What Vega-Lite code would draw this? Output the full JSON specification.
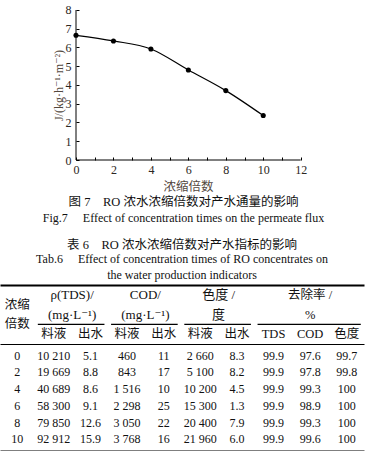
{
  "$schema": "https://vega.github.io/schema/vega-lite/v6.json",
  "padding": 0,
  "spacing": 14,
  "config": {
    "view": {"stroke": null},
    "font": "Liberation Serif, DejaVu Serif, Noto Sans CJK SC",
    "text": {"font": "Liberation Serif, DejaVu Serif, Noto Sans CJK SC", "fontSize": 12, "color": "#111"},
    "axis": {"labelFont": "Liberation Serif, DejaVu Serif, Noto Sans CJK SC", "titleFont": "Liberation Serif, DejaVu Serif, Noto Sans CJK SC", "domainColor": "#000", "tickColor": "#000"},
    "title": {"font": "Liberation Serif, Noto Sans CJK SC", "fontSize": 12.5, "fontWeight": "normal", "color": "#111", "subtitleFont": "Liberation Serif, DejaVu Serif", "subtitleFontSize": 12, "subtitleColor": "#111"},
    "locale": {"number": {"decimal": ".", "thousands": "\u00a0", "grouping": [3], "currency": ["", ""]}}
  },
  "datasets": {
    "flux": [
      {"times": 0, "flux": 6.65},
      {"times": 2, "flux": 6.35},
      {"times": 4, "flux": 5.92},
      {"times": 6, "flux": 4.8},
      {"times": 8, "flux": 3.7},
      {"times": 10, "flux": 2.37}
    ],
    "table": [
      {"times": 0, "tds_feed": 10210, "tds_out": 5.1, "cod_feed": 460, "cod_out": 11, "color_feed": 2660, "color_out": 8.3, "rem_tds": 99.9, "rem_cod": 97.6, "rem_color": 99.7},
      {"times": 2, "tds_feed": 19669, "tds_out": 8.8, "cod_feed": 843, "cod_out": 17, "color_feed": 5100, "color_out": 8.2, "rem_tds": 99.9, "rem_cod": 97.8, "rem_color": 99.8},
      {"times": 4, "tds_feed": 40689, "tds_out": 8.6, "cod_feed": 1516, "cod_out": 10, "color_feed": 10200, "color_out": 4.5, "rem_tds": 99.9, "rem_cod": 99.3, "rem_color": 100},
      {"times": 6, "tds_feed": 58300, "tds_out": 9.1, "cod_feed": 2298, "cod_out": 25, "color_feed": 15300, "color_out": 1.3, "rem_tds": 99.9, "rem_cod": 98.9, "rem_color": 100},
      {"times": 8, "tds_feed": 79850, "tds_out": 12.6, "cod_feed": 3050, "cod_out": 22, "color_feed": 20400, "color_out": 7.9, "rem_tds": 99.9, "rem_cod": 99.3, "rem_color": 100},
      {"times": 10, "tds_feed": 92912, "tds_out": 15.9, "cod_feed": 3768, "cod_out": 16, "color_feed": 21960, "color_out": 6.0, "rem_tds": 99.9, "rem_cod": 99.6, "rem_color": 100}
    ],
    "headerGroups": [
      {"label": "ρ(TDS)/", "col": "tds_feed", "line": "h1"},
      {"label": "(mg·L⁻¹)", "col": "tds_feed", "line": "h2"},
      {"label": "COD/", "col": "cod_feed", "line": "h1"},
      {"label": "(mg·L⁻¹)", "col": "cod_feed", "line": "h2"},
      {"label": "色度 /", "col": "color_feed", "line": "h1"},
      {"label": "度", "col": "color_feed", "line": "h2"}
    ],
    "headerSubs": [
      {"label": "浓缩", "col": "times", "line": "h1b"},
      {"label": "倍数", "col": "times", "line": "h2b"},
      {"label": "去除率 /", "col": "rem_cod", "line": "h1"},
      {"label": "%", "col": "rem_cod", "line": "h2"},
      {"label": "料液", "col": "tds_feed", "line": "h3"},
      {"label": "出水", "col": "tds_out", "line": "h3"},
      {"label": "料液", "col": "cod_feed", "line": "h3"},
      {"label": "出水", "col": "cod_out", "line": "h3"},
      {"label": "料液", "col": "color_feed", "line": "h3"},
      {"label": "出水", "col": "color_out", "line": "h3"},
      {"label": "TDS", "col": "rem_tds", "line": "h3"},
      {"label": "COD", "col": "rem_cod", "line": "h3"},
      {"label": "色度", "col": "rem_color", "line": "h3"}
    ],
    "underlines": [
      {"from": "tds_feed", "to": "tds_out"},
      {"from": "cod_feed", "to": "cod_out"},
      {"from": "color_feed", "to": "color_out"},
      {"from": "rem_tds", "to": "rem_color"}
    ]
  },
  "resolve": {"scale": {"x": "independent", "y": "independent"}},
  "vconcat": [
    {
      "width": 367,
      "height": 160,
      "title": {
        "text": "图 7\u2003RO 浓水浓缩倍数对产水通量的影响",
        "subtitle": "Fig.7\u2003 Effect of concentration times on the permeate flux",
        "orient": "bottom",
        "anchor": "middle",
        "frame": "group",
        "offset": 3,
        "subtitlePadding": 5
      },
      "layer": [
        {
          "data": {"name": "flux"},
          "mark": {"type": "line", "interpolate": "monotone", "color": "#000", "strokeWidth": 1.2},
          "encoding": {
            "x": {
              "field": "times", "type": "quantitative",
              "scale": {"domain": [-4.059, 15.541], "nice": false, "zero": false},
              "axis": {"orient": "bottom", "values": [0, 1, 2, 3, 4, 5, 6, 7, 8, 9, 10, 11, 12], "format": "d", "labelExpr": "datum.value % 2 === 0 ? datum.label : ''", "labelOverlap": false, "domain": false, "grid": false, "tickSize": -3, "tickWidth": 1, "labelPadding": 7, "labelFontSize": 12, "labelColor": "#2b2622", "title": "浓缩倍数", "titleFont": "Noto Sans CJK SC", "titleFontSize": 12.5, "titleFontWeight": "normal", "titleColor": "#54493f", "titlePadding": 5, "titleX": 188}
            },
            "y": {
              "field": "flux", "type": "quantitative",
              "scale": {"domain": [0, 8.5333], "nice": false, "zero": false},
              "axis": {"orient": "left", "offset": -76, "values": [0, 0.5, 1, 1.5, 2, 2.5, 3, 3.5, 4, 4.5, 5, 5.5, 6, 6.5, 7, 7.5, 8], "format": "d", "labelExpr": "datum.value % 1 === 0 ? datum.label : ''", "labelOverlap": false, "domain": false, "grid": false, "tickSize": -3, "labelPadding": 8, "labelFontSize": 12, "labelColor": "#2b2622", "title": "J/(kg·h⁻¹·m⁻²)", "titleFontSize": 12, "titleFontWeight": "normal", "titleColor": "#54493f", "titlePadding": 0, "titleY": 85}
            }
          }
        },
        {
          "data": {"name": "flux"},
          "mark": {"type": "point", "filled": true, "color": "#000", "opacity": 1, "size": 26},
          "encoding": {
            "x": {"field": "times", "type": "quantitative",
              "axis": {"orient": "bottom", "values": [0, 1, 2, 3, 4, 5, 6, 7, 8, 9, 10, 11, 12], "format": "d", "labelExpr": "datum.value % 2 === 0 ? datum.label : ''", "labelOverlap": false, "domain": false, "grid": false, "tickSize": -3, "tickWidth": 1, "labelPadding": 7, "labelFontSize": 12, "labelColor": "#2b2622", "title": "浓缩倍数", "titleFont": "Noto Sans CJK SC", "titleFontSize": 12.5, "titleFontWeight": "normal", "titleColor": "#54493f", "titlePadding": 5, "titleX": 188}},
            "y": {"field": "flux", "type": "quantitative",
              "axis": {"orient": "left", "offset": -76, "values": [0, 0.5, 1, 1.5, 2, 2.5, 3, 3.5, 4, 4.5, 5, 5.5, 6, 6.5, 7, 7.5, 8], "format": "d", "labelExpr": "datum.value % 1 === 0 ? datum.label : ''", "labelOverlap": false, "domain": false, "grid": false, "tickSize": -3, "labelPadding": 8, "labelFontSize": 12, "labelColor": "#2b2622", "title": "J/(kg·h⁻¹·m⁻²)", "titleFontSize": 12, "titleFontWeight": "normal", "titleColor": "#54493f", "titlePadding": 0, "titleY": 85}}
          }
        },
        {
          "data": {"values": [{}]},
          "mark": {"type": "rule", "color": "#000", "strokeWidth": 1},
          "encoding": {
            "x": {"datum": 0,
              "axis": {"orient": "bottom", "values": [0, 1, 2, 3, 4, 5, 6, 7, 8, 9, 10, 11, 12], "format": "d", "labelExpr": "datum.value % 2 === 0 ? datum.label : ''", "labelOverlap": false, "domain": false, "grid": false, "tickSize": -3, "tickWidth": 1, "labelPadding": 7, "labelFontSize": 12, "labelColor": "#2b2622", "title": "浓缩倍数", "titleFont": "Noto Sans CJK SC", "titleFontSize": 12.5, "titleFontWeight": "normal", "titleColor": "#54493f", "titlePadding": 5, "titleX": 188}},
            "x2": {"datum": 12},
            "y": {"datum": 0,
              "axis": {"orient": "left", "offset": -76, "values": [0, 0.5, 1, 1.5, 2, 2.5, 3, 3.5, 4, 4.5, 5, 5.5, 6, 6.5, 7, 7.5, 8], "format": "d", "labelExpr": "datum.value % 1 === 0 ? datum.label : ''", "labelOverlap": false, "domain": false, "grid": false, "tickSize": -3, "labelPadding": 8, "labelFontSize": 12, "labelColor": "#2b2622", "title": "J/(kg·h⁻¹·m⁻²)", "titleFontSize": 12, "titleFontWeight": "normal", "titleColor": "#54493f", "titlePadding": 0, "titleY": 85}}
          }
        },
        {
          "data": {"values": [{}]},
          "mark": {"type": "rule", "color": "#000", "strokeWidth": 1},
          "encoding": {
            "x": {"datum": 0,
              "axis": {"orient": "bottom", "values": [0, 1, 2, 3, 4, 5, 6, 7, 8, 9, 10, 11, 12], "format": "d", "labelExpr": "datum.value % 2 === 0 ? datum.label : ''", "labelOverlap": false, "domain": false, "grid": false, "tickSize": -3, "tickWidth": 1, "labelPadding": 7, "labelFontSize": 12, "labelColor": "#2b2622", "title": "浓缩倍数", "titleFont": "Noto Sans CJK SC", "titleFontSize": 12.5, "titleFontWeight": "normal", "titleColor": "#54493f", "titlePadding": 5, "titleX": 188}},
            "y": {"datum": 0,
              "axis": {"orient": "left", "offset": -76, "values": [0, 0.5, 1, 1.5, 2, 2.5, 3, 3.5, 4, 4.5, 5, 5.5, 6, 6.5, 7, 7.5, 8], "format": "d", "labelExpr": "datum.value % 1 === 0 ? datum.label : ''", "labelOverlap": false, "domain": false, "grid": false, "tickSize": -3, "labelPadding": 8, "labelFontSize": 12, "labelColor": "#2b2622", "title": "J/(kg·h⁻¹·m⁻²)", "titleFontSize": 12, "titleFontWeight": "normal", "titleColor": "#54493f", "titlePadding": 0, "titleY": 85}},
            "y2": {"datum": 8}
          }
        }
      ]
    },
    {
      "spacing": 0,
      "resolve": {"scale": {"x": "independent", "y": "independent"}},
      "vconcat": [
        {
          "width": 364,
          "height": 59,
          "title": {
            "text": "表 6\u2003RO 浓水浓缩倍数对产水指标的影响",
            "subtitle": ["Tab.6\u2003 Effect of concentration times of RO concentrates on", "the water production indicators\u00a0\u00a0\u00a0\u00a0\u00a0\u00a0\u00a0\u00a0\u00a0\u00a0\u00a0\u00a0\u00a0\u00a0\u00a0\u00a0\u00a0\u00a0\u00a0\u00a0\u00a0\u00a0"],
            "anchor": "middle",
            "frame": "group",
            "offset": 4,
            "subtitlePadding": 3,
            "subtitleLineHeight": 16
          },
          "layer": [
            {
              "data": {"name": "headerGroups"},
              "mark": {"type": "text", "dx": 18.3, "fontSize": 13},
              "encoding": {
                "x": {
                  "field": "col", "type": "nominal",
                  "scale": {"type": "point", "domain": ["times", "tds_feed", "tds_out", "cod_feed", "cod_out", "color_feed", "color_out", "rem_tds", "rem_cod", "rem_color"], "padding": 0.47},
                  "axis": {"orient": "top", "domain": true, "domainWidth": 2.2, "domainColor": "#000", "ticks": false, "labels": false, "title": null, "grid": false}
                },
                "y": {
                  "field": "line", "type": "nominal",
                  "scale": {"type": "point", "domain": ["h1", "h1b", "h2", "h2b", "h3"], "padding": 1.19},
                  "axis": null
                },
                "text": {"field": "label"}
              }
            },
            {
              "data": {"name": "headerSubs"},
              "mark": {"type": "text", "fontSize": 12.5},
              "encoding": {
                "x": {"field": "col", "type": "nominal", "axis": null},
                "y": {"field": "line", "type": "nominal", "axis": null},
                "text": {"field": "label"}
              }
            },
            {
              "data": {"name": "underlines"},
              "mark": {"type": "rule", "xOffset": -16, "x2Offset": 14, "strokeWidth": 1.3, "color": "#000"},
              "encoding": {
                "x": {
                  "field": "from", "type": "nominal",
                  "axis": {"orient": "bottom", "domain": true, "domainWidth": 1, "domainColor": "#000", "ticks": false, "labels": false, "title": null, "grid": false}
                },
                "x2": {"field": "to"},
                "y": {"datum": "h2b"}
              }
            }
          ],
          "resolve": {"axis": {"x": "independent"}}
        },
        {
          "width": 364,
          "height": 107,
          "data": {"name": "table"},
          "transform": [
            {"fold": ["times", "tds_feed", "tds_out", "cod_feed", "cod_out", "color_feed", "color_out", "rem_tds", "rem_cod", "rem_color"], "as": ["col", "value"]}
          ],
          "mark": {"type": "text", "fontSize": 12, "color": "#111"},
          "encoding": {
            "x": {
              "field": "col", "type": "nominal",
              "scale": {"type": "point", "domain": ["times", "tds_feed", "tds_out", "cod_feed", "cod_out", "color_feed", "color_out", "rem_tds", "rem_cod", "rem_color"], "padding": 0.47},
              "axis": {"orient": "bottom", "domain": true, "domainWidth": 2.2, "domainColor": "#000", "ticks": false, "labels": false, "title": null, "grid": false}
            },
            "y": {
              "field": "times", "type": "ordinal",
              "scale": {"type": "point", "padding": 0.69},
              "axis": null
            },
            "text": {
              "condition": {"test": "datum.col === 'color_out'", "field": "value", "type": "quantitative", "format": ".1f"},
              "field": "value", "type": "quantitative", "format": ",.1~f"
            }
          }
        }
      ]
    }
  ]
}
